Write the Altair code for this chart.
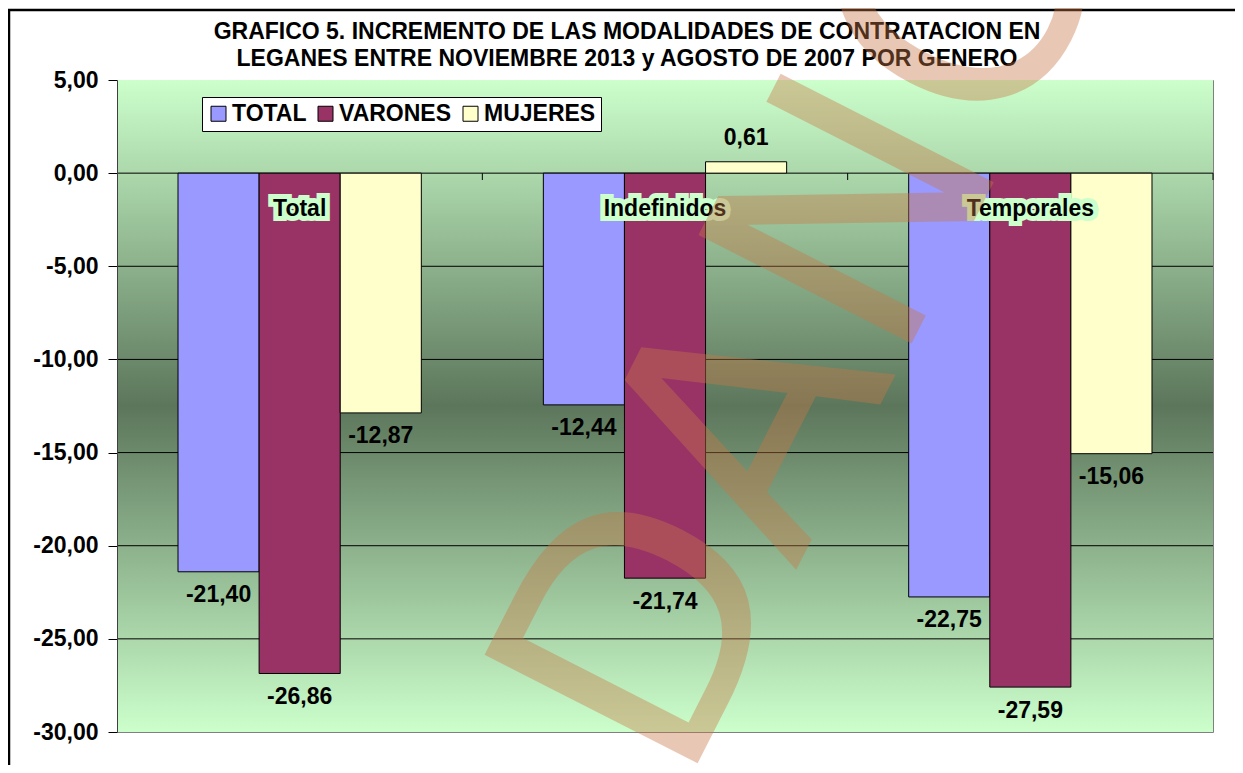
import altair as alt
import pandas as pd

categories = ["Total", "Indefinidos", "Temporales"]
series = ["TOTAL", "VARONES", "MUJERES"]
total_values = [-21.40, -12.44, -22.75]
varones_values = [-26.86, -21.74, -27.59]
mujeres_values = [-12.87, 0.61, -15.06]
series_colors = ["#9999ff", "#993366", "#ffffcc"]
y_ticks = [5, 0, -5, -10, -15, -20, -25, -30]
grid_values = [0, -5, -10, -15, -20, -25]
title_lines = [
    "GRAFICO 5. INCREMENTO DE LAS MODALIDADES DE CONTRATACION EN",
    "LEGANES ENTRE NOVIEMBRE 2013 y AGOSTO DE 2007 POR GENERO",
]
watermark_text = "DANO"

rows = []
for s, vals in zip(series, [total_values, varones_values, mujeres_values]):
    for c, v in zip(categories, vals):
        rows.append({"cat": c, "serie": s, "v": v})
df = pd.DataFrame(rows)

W, H = 1096, 652
FONT = "Liberation Sans"
FS = 23
PAD_INNER = 0.334
STEP = W / len(categories)

yscale = alt.Scale(domain=[-30, 5], nice=False, zero=False)
xscale = alt.Scale(domain=categories, paddingInner=PAD_INNER, paddingOuter=PAD_INNER / 2)
offscale = alt.Scale(domain=series, paddingInner=0, paddingOuter=0)

lbl_expr = "(datum.v < 0 ? '-' : '') + replace(format(abs(datum.v), '.2f'), '.', ',')"
axis_expr = "(datum.value < 0 ? '-' : '') + replace(format(abs(datum.value), '.2f'), '.', ',')"

y_axis = alt.Axis(
    title=None, values=y_ticks, labelExpr=axis_expr, grid=False,
    labelFont=FONT, labelFontWeight="bold", labelFontSize=FS,
    labelColor="black", tickColor="black", tickSize=9,
    domainColor="#404040", labelPadding=10, zindex=1,
)

x_enc = alt.X("cat:N", scale=xscale, sort=categories, axis=None)
xo_enc = alt.XOffset("serie:N", scale=offscale, sort=series)
y_enc = alt.Y("v:Q", scale=yscale, axis=y_axis)

bg = alt.Chart(alt.Data(values=[{}])).mark_rect(
    color=alt.Gradient(
        gradient="linear", x1=0, y1=0, x2=0, y2=1,
        stops=[
            alt.GradientStop(offset=0, color="#ccffcc"),
            alt.GradientStop(offset=0.5, color="#5c765b"),
            alt.GradientStop(offset=1, color="#ccffcc"),
        ],
    )
).encode(x=alt.value(0), x2=alt.value(W), y=alt.value(0), y2=alt.value(H))

grid = alt.Chart(pd.DataFrame({"v": grid_values})).mark_rule(
    color="black", strokeWidth=1
).encode(y=y_enc)

cat_df = pd.DataFrame({"cat": categories})
zero_df = pd.DataFrame({"cat": categories, "v": [0] * len(categories)})

# small category-boundary ticks hanging from the zero line
cat_ticks = alt.Chart(zero_df).mark_rule(
    color="black", strokeWidth=1, xOffset=STEP * PAD_INNER / 2
).encode(
    x=alt.X("cat:N", scale=xscale, sort=categories, axis=None, bandPosition=1),
    y=y_enc,
    y2=alt.value(100),
)

bars = alt.Chart(df).mark_bar(stroke="black", strokeWidth=1).encode(
    x=x_enc,
    xOffset=xo_enc,
    y=y_enc,
    color=alt.Color(
        "serie:N", scale=alt.Scale(domain=series, range=series_colors), sort=series,
        legend=alt.Legend(
            title=None, orient="none", legendX=85, legendY=17, direction="horizontal",
            fillColor="white", strokeColor="black", padding=5, symbolType="square",
            symbolSize=225, symbolStrokeColor="black", symbolStrokeWidth=1,
            labelFont=FONT, labelFontWeight="bold", labelFontSize=FS,
            labelColor="black", columnPadding=7, labelOffset=2, symbolOpacity=1,
        ),
    ),
)

neg = alt.Chart(df).transform_filter("datum.v < 0").transform_calculate(lbl=lbl_expr).mark_text(
    dy=23.5, font=FONT, fontWeight="bold", fontSize=FS, color="black", baseline="middle"
).encode(x=x_enc, xOffset=xo_enc, y=y_enc, text="lbl:N")

pos = alt.Chart(df).transform_filter("datum.v >= 0").transform_calculate(lbl=lbl_expr).mark_text(
    dy=-23.5, font=FONT, fontWeight="bold", fontSize=FS, color="black", baseline="middle"
).encode(x=x_enc, xOffset=xo_enc, y=y_enc, text="lbl:N")

halo = alt.Chart(cat_df).mark_text(
    font=FONT, fontWeight="bold", fontSize=FS, color="#ccffcc", stroke="#ccffcc",
    strokeWidth=10, baseline="middle",
).encode(x=x_enc, y=alt.value(129), text="cat:N")
catlbl = alt.Chart(cat_df).mark_text(
    font=FONT, fontWeight="bold", fontSize=FS, color="black", baseline="middle",
).encode(x=x_enc, y=alt.value(129), text="cat:N")

t1 = alt.Chart(alt.Data(values=[{"t": title_lines[0]}])).mark_text(
    font=FONT, fontWeight="bold", fontSize=FS, color="black", baseline="middle"
).encode(x=alt.value(510), y=alt.value(-48), text="t:N")
t2 = alt.Chart(alt.Data(values=[{"t": title_lines[1]}])).mark_text(
    font=FONT, fontWeight="bold", fontSize=FS, color="black", baseline="middle"
).encode(x=alt.value(510), y=alt.value(-21), text="t:N")

frame = alt.Chart(alt.Data(values=[{}])).mark_rect(
    filled=False, stroke="black", strokeWidth=2.5
).encode(x=alt.value(-108), y=alt.value(-70), x2=alt.value(W + 80), y2=alt.value(H + 80))

wm = alt.Chart(alt.Data(values=[{"w": watermark_text}])).mark_text(
    angle=297, align="left", baseline="alphabetic", fontSize=328, font="DejaVu Sans",
    color="#c87846", opacity=0.4,
).encode(x=alt.value(566), y=alt.value(712), text="w:N")

chart = alt.layer(bg, grid, cat_ticks, bars, neg, pos, halo, catlbl, t1, t2, frame, wm).properties(
    width=W, height=H,
    padding={"left": 109, "top": 72, "right": 22, "bottom": 33},
    autosize=alt.AutoSizeParams(type="none"),
    background="white",
).configure_view(stroke="#808080", strokeWidth=1)

chart.save("out.html", embed_options={"renderer": "svg", "actions": False})
